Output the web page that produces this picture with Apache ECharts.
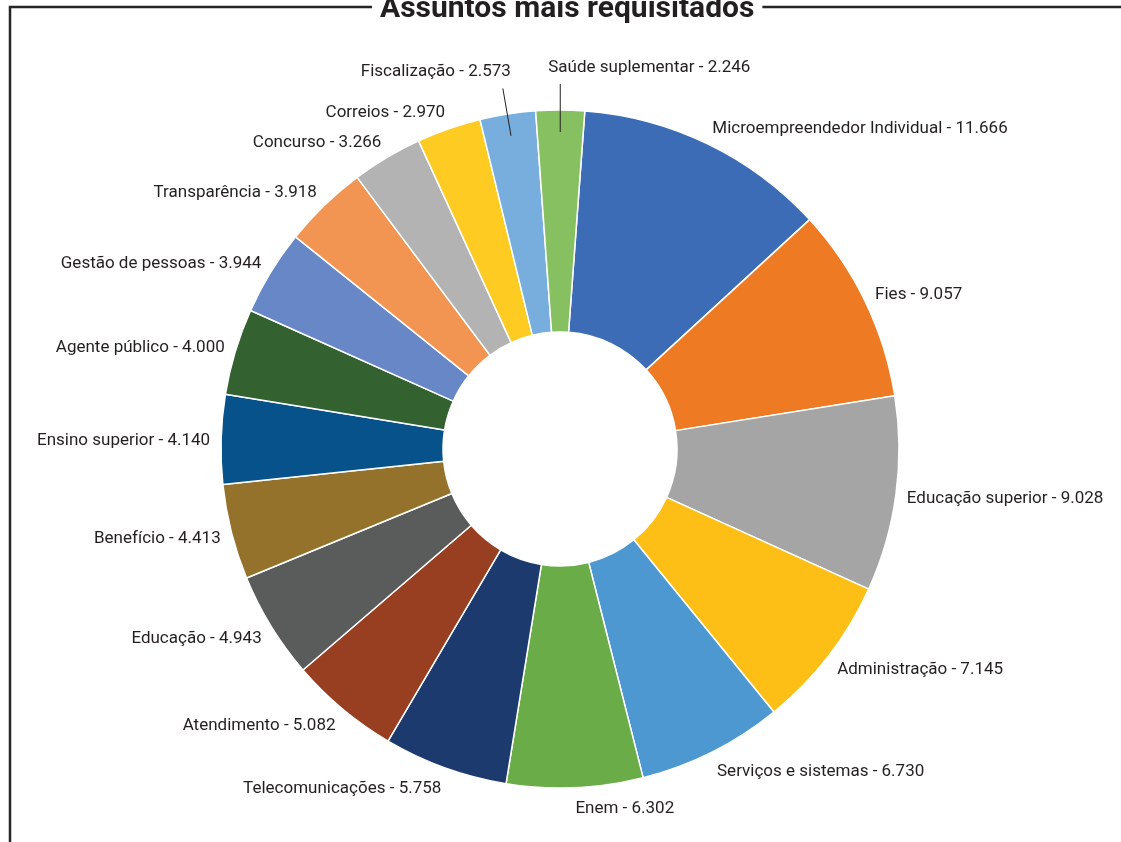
<!DOCTYPE html>
<html><head><meta charset="utf-8">
<script src="https://cdn.jsdelivr.net/npm/echarts@6/dist/echarts.min.js"></script>
<style>html,body{margin:0;padding:0;background:#fff}#c{width:1121px;height:842px}</style>
</head><body><div id="c"></div><script>
const titleText = 'Assuntos mais requisitados';
const categories = ['Microempreendedor Individual','Fies','Educação superior','Administração','Serviços e sistemas','Enem','Telecomunicações','Atendimento','Educação','Benefício','Ensino superior','Agente público','Gestão de pessoas','Transparência','Concurso','Correios','Fiscalização','Saúde suplementar'];
const values = [11666,9057,9028,7145,6730,6302,5758,5082,4943,4413,4140,4000,3944,3918,3266,2970,2573,2246];
const colors = ['#3b6cb5','#ee7b24','#a5a5a5','#fdbf16','#4d98d1','#6aac47','#1c3a6e','#973f20','#5a5c5b','#94722c','#07528a','#33612f','#6787c7','#f39552','#b3b3b3','#fdcb22','#77aede','#86c060'];
const leaderItems = ['Fiscalização','Saúde suplementar'];

const CX = 560, CY = 449, R0 = 117, R1 = 339, START = 85.8;
const FONT = "Roboto, sans-serif";
const total = values.reduce((a,b)=>a+b,0);
const cum = []; values.reduce((a,v,i)=>{cum[i]=a;return a+v;},0);
function fmt(v){return String(v).replace(/\B(?=(\d{3})+(?!\d))/g,'.');}
const isLead = i => leaderItems.indexOf(categories[i]) >= 0;

function midDir(i){
  const ang = (90-START + (cum[i]+values[i]/2)/total*360) * Math.PI/180;
  return [Math.sin(ang), Math.cos(ang)];
}
function layout(p){
  const i = p.dataIndex;
  const [s, c] = midDir(i);
  const h = p.labelRect.height;
  const align = s >= 0 ? 'left' : 'right';
  if (isLead(i)) {
    const R = R1 + 31;
    const px = CX + R*s, py = CY - R*c;
    return {x: px + (s >= 0 ? -12 : 8), y: py - h/2 - 3, align: align, verticalAlign:'middle'};
  }
  const R = R1 + 11;
  const px = CX + R*s, py = CY - R*c;
  return {x:px, y:py - c*h/2 + 2, align: align, verticalAlign:'middle'};
}
function guideLayout(p){
  const i = p.dataIndex;
  const [s, c] = midDir(i);
  const R = R1 + 31;
  return {x: CX + R*s, y: CY - R*c + 1, align:'center', verticalAlign:'top'};
}
const labelBase = {show:true, position:'outside', fontFamily:FONT, fontSize:17, color:'#231f20',
  formatter:p=>p.name+' - '+fmt(p.value)};

const mainData = categories.map((n,i)=>({name:n, value:values[i], itemStyle:{color:colors[i]}}));
const guideData = categories.map((n,i)=>({name:n, value:values[i],
  label:{show:isLead(i)}, labelLine:{show:isLead(i)}}));

const chart = echarts.init(document.getElementById('c'), null, {renderer:'canvas'});
chart.setOption({
  backgroundColor:'#fff',
  animation:false,
  graphic:[{type:'rect', z:0, shape:{x:10, y:7, width:1400, height:1200}, style:{fill:'none', stroke:'#262626', lineWidth:2.5}}],
  title:{text:titleText, left:372, top:-6, z:10, backgroundColor:'#fff', padding:[0,8],
    textStyle:{fontFamily:FONT, fontWeight:'bold', fontSize:30, color:'#231f20'}},
  series:[{
    type:'pie', center:[CX,CY], radius:[R0,R1], startAngle:START, clockwise:true,
    avoidLabelOverlap:false, z:5,
    itemStyle:{borderColor:'#fff', borderWidth:1.5},
    label:labelBase,
    labelLine:{show:false},
    data:mainData,
    labelLayout:layout
  },{
    type:'pie', center:[CX,CY], radius:[0,R1-22], startAngle:START, clockwise:true,
    avoidLabelOverlap:false, z:6, silent:true,
    itemStyle:{color:'rgba(0,0,0,0)', borderWidth:0},
    label:{show:true, position:'outside', fontSize:4, color:'rgba(0,0,0,0)', formatter:'.'},
    labelLine:{show:false, length:5, length2:0, smooth:false, lineStyle:{color:'#231f20', width:1}},
    emphasis:{disabled:true},
    data:guideData,
    labelLayout:guideLayout
  }]
});
</script></body></html>
